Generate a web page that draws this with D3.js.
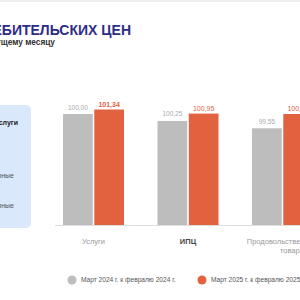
<!DOCTYPE html>
<html><head><meta charset="utf-8">
<script src="https://cdn.jsdelivr.net/npm/d3@7"></script>
<style>body{margin:0;background:#fff}svg{display:block;font-family:"Liberation Sans",Arial,sans-serif}</style>
</head><body><svg id="c" width="300" height="300"></svg>
<script>
const categories = ["Услуги", "ИПЦ", "Продовольственные товары"];
const seriesNames = ["Март 2024 г.  к февралю 2024 г.", "Март 2025 г. к февралю 2025 г."];
const prevValues = [100.91, 100.25, 99.55];
const currValues = [101.34, 100.95, 100.91];
const prevLabels = ["100,00", "100,25", "99,55"];
const currLabels = ["101,34", "100,95", "100,91"];
const panelItems = ["Услуги", "Продовольственные", "Непродовольственные"];

const svg = d3.select("#c");
svg.append("rect").attr("x",0).attr("y",0).attr("width",300).attr("height",2).attr("fill","#eeeeee");

// title
svg.append("text").attr("x",131).attr("y",35).attr("text-anchor","end")
  .attr("font-size",14).attr("font-weight","bold").attr("fill","#2d2c88")
  .attr("textLength",null)
  .text("ИНДЕКС ПОТРЕБИТЕЛЬСКИХ ЦЕН");
svg.append("text").attr("x",55).attr("y",45).attr("text-anchor","end")
  .attr("font-size",8.3).attr("font-weight","bold").attr("fill","#333")
  .text("к предыдущему месяцу");

// left panel
svg.append("rect").attr("x",-20).attr("y",105).attr("width",51).attr("height",123).attr("rx",5)
  .attr("fill","#d9e9fb");
const panelY = [125, 178, 208];
const panelX = [18, 14, 14];
svg.selectAll(".pt").data(panelItems).join("text")
  .attr("x",(d,i)=>panelX[i]).attr("y",(d,i)=>panelY[i]).attr("text-anchor","end")
  .attr("font-size",7).attr("fill",(d,i)=>i===0?"#222":"#555")
  .attr("font-weight",(d,i)=>i===0?"bold":"normal").text(d=>d);

// scales
const x = d3.scaleBand().domain(categories).range([63,313]).paddingInner(0.3545).paddingOuter(0);
const xs = d3.scaleBand().domain(["prev","curr"]).range([0, x.bandwidth()]).paddingInner(0.05);
const y = d3.scaleLinear().domain([90.34, 102]).range([225, 225 - 10.5*(102-90.34)]);

// axis line
svg.append("line").attr("x1",55).attr("x2",300).attr("y1",225.5).attr("y2",225.5)
  .attr("stroke","#dddddd").attr("stroke-width",1);

const rows = categories.map((c,i)=>({c, prev:prevValues[i], curr:currValues[i], pl:prevLabels[i], cl:currLabels[i]}));
const g = svg.selectAll(".grp").data(rows).join("g").attr("transform",d=>`translate(${x(d.c)},0)`);
g.append("rect").attr("x",xs("prev")).attr("width",xs.bandwidth())
  .attr("y",d=>y(d.prev)).attr("height",d=>y.range()[0]-y(d.prev)).attr("fill","#bdbdbd");
g.append("rect").attr("x",xs("curr")).attr("width",xs.bandwidth())
  .attr("y",d=>y(d.curr)).attr("height",d=>y.range()[0]-y(d.curr)).attr("fill","#e2623f");
g.append("text").attr("x",xs("prev")+xs.bandwidth()/2).attr("y",d=>y(d.prev)-4.5)
  .attr("text-anchor","middle").attr("font-size",6.5).attr("fill","#aaaaaa").text(d=>d.pl);
g.append("text").attr("x",xs("curr")+xs.bandwidth()/2).attr("y",d=>y(d.curr)-3)
  .attr("text-anchor","middle").attr("font-size",7).attr("fill","#e2623f")
  .attr("font-weight",(d,i)=>i===0?"bold":"normal").text(d=>d.cl);

// category labels
g.each(function(d,i){
  const t = d3.select(this).append("text").attr("text-anchor","middle")
    .attr("font-size",7.5).attr("fill",i===1?"#444":"#999").attr("font-weight",i===1?"bold":"normal");
  const words = i===2 ? ["Продовольственные","товары"] : [d.c];
  words.forEach((w,j)=>t.append("tspan").attr("x",x.bandwidth()/2 + (j===1?10:0)).attr("y",244+j*9).text(w));
});

// legend
const lg = [{x:72, c:"#bdbdbd"},{x:202, c:"#e2623f"}];
lg.forEach((l,i)=>{
  svg.append("circle").attr("cx",l.x).attr("cy",280).attr("r",4.5).attr("fill",l.c);
  svg.append("text").attr("x",l.x+9).attr("y",282.3).attr("font-size",6.6).attr("fill","#555").text(seriesNames[i]);
});
</script></body></html>
